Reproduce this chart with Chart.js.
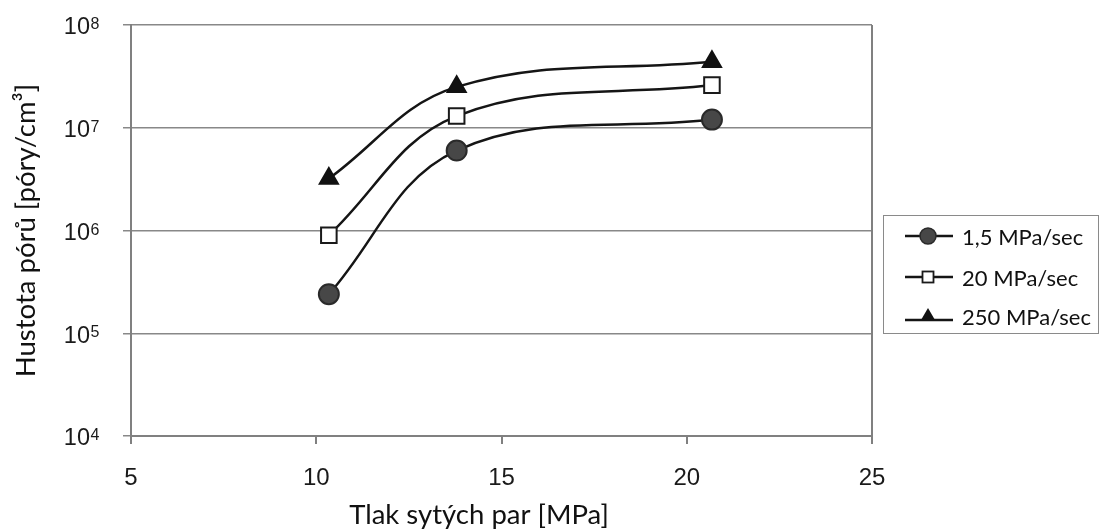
<!DOCTYPE html>
<html>
<head>
<meta charset="utf-8">
<script src="https://cdn.jsdelivr.net/npm/chart.js@4.4.0/dist/chart.umd.min.js"></script>
<style>
  html, body { margin:0; padding:0; background:#fff; }
  #wrap { position:relative; width:1103px; height:532px; }
  canvas { position:absolute; left:0; top:0; }
  #legend { position:absolute; left:883px; top:215px; width:216px; height:119px; border:1.5px solid #8a8a8a; box-sizing:border-box; font-family: Lato, "Open Sans", sans-serif; font-size:22px; color:#111; }
  .row { position:absolute; left:0; height:30px; }
  .row svg { position:absolute; left:20px; top:0; }
  .row span { position:absolute; left:78px; top:1px; white-space:nowrap; line-height:30px; }
</style>
</head>
<body>
<div id="wrap">
  <canvas id="c" width="1103" height="532"></canvas>
  <div id="legend"></div>
</div>
<script>
// ---- data ----
const pressure = [10.34, 13.79, 20.68];
const rate1_5 = [2.4e5, 6.0e6, 1.2e7];
const rate20 = [9.0e5, 1.3e7, 2.6e7];
const rate250 = [3.2e6, 2.5e7, 4.4e7];
const seriesNames = ["1,5 MPa/sec", "20 MPa/sec", "250 MPa/sec"];
const yTickValues = [1e4, 1e5, 1e6, 1e7, 1e8];
const yTickBase = "10";
const yTickExponents = ["4", "5", "6", "7", "8"];
const xTitle = "Tlak sytých par [MPa]";
const yTitle = "Hustota pórů [póry/cm³]";

function pts(ys) { return pressure.map((x, i) => ({ x: x, y: ys[i] })); }

const styles = [
  { pointStyle: 'circle', radius: 10, bg: '#474747', border: '#2a2a2a' },
  { pointStyle: 'rect', radius: 11, bg: '#ffffff', border: '#1a1a1a' },
  { pointStyle: 'triangle', radius: 10.5, bg: '#111111', border: '#111111' }
];
const allSeries = [rate1_5, rate20, rate250];

const datasets = allSeries.map((s, i) => ({
  label: seriesNames[i],
  data: pts(s),
  borderColor: '#151515',
  borderWidth: 2.5,
  tension: 0.38,
  pointStyle: styles[i].pointStyle,
  pointRadius: styles[i].radius,
  pointBackgroundColor: styles[i].bg,
  pointBorderColor: styles[i].border,
  pointBorderWidth: 2,
  clip: false
}));

const extras = {
  id: 'extras',
  beforeDatasetsDraw(chart) {
    const { ctx, chartArea } = chart;
    ctx.save();
    ctx.strokeStyle = '#808080';
    ctx.lineWidth = 2;
    ctx.beginPath();
    ctx.moveTo(chartArea.right, chartArea.top);
    ctx.lineTo(chartArea.right, chartArea.bottom + 8);
    ctx.stroke();
    ctx.restore();
  },
  afterDraw(chart) {
    const { ctx } = chart;
    const y = chart.scales.y;
    ctx.save();
    // exponents of the y tick labels
    ctx.fillStyle = '#1a1a1a';
    ctx.font = '16px "Liberation Sans", Arial, sans-serif';
    ctx.textAlign = 'left';
    ctx.textBaseline = 'alphabetic';
    yTickValues.forEach((v, i) => {
      const py = y.getPixelForValue(v);
      ctx.fillText(yTickExponents[i], 90.5, py + 4);
    });
    // x axis title
    ctx.fillStyle = '#111';
    ctx.font = '27.5px Lato, "Open Sans", sans-serif';
    ctx.textAlign = 'center';
    ctx.textBaseline = 'middle';
    ctx.fillText(xTitle, 479, 515);
    ctx.restore();
  }
};

new Chart(document.getElementById('c'), {
  type: 'line',
  data: { datasets },
  plugins: [extras],
  options: {
    responsive: false,
    devicePixelRatio: 1,
    animation: false,
    layout: { padding: { left: 0, right: 231, top: 25, bottom: 0 } },
    plugins: { legend: { display: false }, tooltip: { enabled: false } },
    scales: {
      x: {
        type: 'linear', min: 5, max: 25,
        afterFit(s) { s.height = 96; s.paddingLeft = 0; s.paddingRight = 0; },
        ticks: { stepSize: 5, padding: 20, color: '#1a1a1a', font: { family: '"Liberation Sans", Arial, sans-serif', size: 24 } },
        grid: { drawOnChartArea: false, drawTicks: true, tickLength: 8, color: '#808080', lineWidth: 2 },
        border: { color: '#808080', width: 2 },
        title: { display: false }
      },
      y: {
        type: 'logarithmic', min: 1e4, max: 1e8,
        afterFit(s) { s.width = 131; s.paddingTop = 0; s.paddingBottom = 0; },
        afterBuildTicks(s) { s.ticks = yTickValues.map(v => ({ value: v })); },
        ticks: {
          padding: 33, labelOffset: 3, color: '#1a1a1a', font: { family: '"Liberation Sans", Arial, sans-serif', size: 23.5 },
          callback(v) { return yTickValues.indexOf(v) >= 0 ? yTickBase : ''; }
        },
        grid: { color: '#888888', lineWidth: 1.5, tickLength: 8 },
        border: { color: '#808080', width: 2 },
        title: { display: true, text: yTitle, color: '#111', padding: { top: 10, bottom: 0 }, font: { family: 'Lato, "Open Sans", sans-serif', size: 27.5 } }
      }
    }
  }
});

// HTML legend (line + marker icons)
const legend = document.getElementById('legend');
const rowTops = [5, 46, 85];
function markerSvg(i) {
  let m = '';
  if (i === 0) m = '<circle cx="24" cy="15" r="8" fill="#474747" stroke="#2a2a2a" stroke-width="1.5"/>';
  if (i === 1) m = '<rect x="18.5" y="9.5" width="11" height="11" fill="#fff" stroke="#1a1a1a" stroke-width="1.8"/>';
  if (i === 2) m = '<polygon points="24,7 31,19 17,19" fill="#111"/>';
  const ly = i === 2 ? 19 : 15;
  return '<svg width="50" height="30" viewBox="0 0 50 30"><line x1="1" y1="' + ly + '" x2="49" y2="' + ly + '" stroke="#151515" stroke-width="2.5"/>' + m + '</svg>';
}
seriesNames.forEach((n, i) => {
  const r = document.createElement('div');
  r.className = 'row';
  r.style.top = rowTops[i] + 'px';
  r.innerHTML = markerSvg(i) + '<span>' + n + '</span>';
  legend.appendChild(r);
});
</script>
</body>
</html>
